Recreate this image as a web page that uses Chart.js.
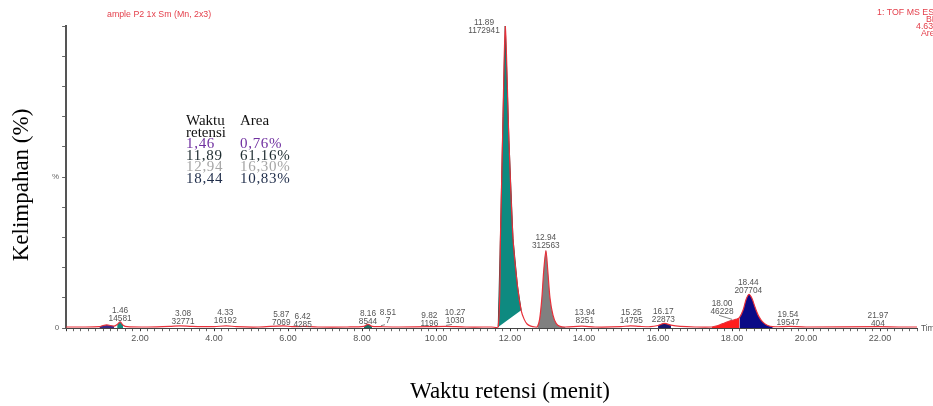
<!DOCTYPE html>
<html>
<head>
<meta charset="utf-8">
<script src="https://cdn.jsdelivr.net/npm/chart.js@4.4.1/dist/chart.umd.min.js"></script>
<style>
  html, body { margin: 0; padding: 0; background: #fff; }
  #wrap { width: 933px; height: 406px; position: relative; }
</style>
</head>
<body>
<div id="wrap"><canvas id="c" width="933" height="406"></canvas></div>
<script>
// Chromatogram trace: retention time (min) and relative abundance (%)
const traceTime = [0.00,0.40,0.90,1.00,1.10,1.20,1.30,1.38,1.46,1.54,1.65,2.20,2.80,3.08,3.40,4.00,4.33,4.60,5.20,5.87,6.10,6.42,6.80,7.60,8.05,8.16,8.27,8.51,9.00,9.82,10.27,10.80,11.50,11.68,11.74,11.81,11.87,11.97,12.08,12.20,12.30,12.38,12.46,12.56,12.68,12.74,12.80,12.86,12.91,12.97,13.02,13.08,13.16,13.25,13.35,13.50,13.94,14.30,15.00,15.25,15.50,15.80,16.00,16.17,16.35,16.60,17.00,17.45,17.60,17.75,17.90,18.00,18.10,18.20,18.30,18.38,18.46,18.54,18.62,18.72,18.82,18.95,19.10,19.54,20.00,21.97,22.50,23.00];
const traceAbund = [0.4,0.4,0.5,0.9,1.1,0.9,0.7,1.2,2.1,1.0,0.5,0.4,0.6,0.8,0.6,0.5,0.8,0.5,0.4,0.8,0.5,0.6,0.4,0.4,0.6,1.3,0.6,0.5,0.4,0.5,0.6,0.4,0.4,0.4,30,70,100,62,29.6,14,5.9,3.0,1.4,0.7,0.4,0.5,3,10,19,25.7,19,10,4.3,1.5,0.6,0.4,0.7,0.4,0.5,0.8,0.6,0.5,0.9,1.6,1.0,0.6,0.4,0.4,0.8,1.5,2.2,2.6,2.9,3.5,6,9.5,11.2,9.8,7,4,2.2,1.0,0.5,0.6,0.4,0.5,0.4,0.4];

// Integrated peak windows (min)
const fillFrom = [0.90, 1.38, 8.05, 11.68, 12.74, 16.00, 17.45, 18.20];
const fillTo   = [1.30, 1.54, 8.27, 12.30, 13.50, 16.35, 18.20, 19.10];

// Peak annotations: retention time, area, apex abundance (%)
const labelRT   = ['1.46','3.08','4.33','5.87','6.42','8.16','8.51','9.82','10.27','11.89','12.94','13.94','15.25','16.17','18.00','18.44','19.54','21.97'];
const labelArea = ['14581','32771','16192','7069','4285','8544','7','1196','1030','1172941','312563','8251','14795','22873','46228','207704','19547','404'];
const labelApex = [2.1,0.8,0.8,0.8,0.6,1.3,0.5,0.5,0.6,100,25.7,0.7,0.8,1.6,2.6,11.2,0.6,0.5];

// Summary table
const tableRT   = ['1,46','11,89','12,94','18,44'];
const tableArea = ['0,76%','61,16%','16,30%','10,83%'];

// ---- styling ----
const fillColors  = ['#3b2a86','#108a7e','#1d6e64','#0e8a80','#808080','#16166e','#ff1e1e','#0a0a86'];
const fillBorders = [null,null,null,'#2a4f4b',null,null,null,null];
const tableColors = ['#7030a0','#1e2c30','#a6a6a6','#1f2d4a'];
// [dx, dy, leader]
const labelNudge = [[0,2,0],[3,1,0],[-1,0,0],[-2,2,0],[-1,3,0],[0,2,0],[7,-1,1],[0,2,0],[9,-1,1],[-22,10,0],[1,0,0],[3,0,0],[1,0,0],[-1,1,0],[-10,-4,1],[0,1,0],[-1,1,0],[-1,2,0]];

const SANS = '"Liberation Sans", Arial, sans-serif';
const SERIF = '"Liberation Serif", "Times New Roman", serif';

const tracePts = traceTime.map((t, i) => ({ x: t, y: traceAbund[i] }));

const datasets = [{
  label: 'trace',
  data: tracePts,
  borderColor: '#e8303a',
  borderWidth: 1.2,
  pointRadius: 0,
  tension: 0.3,
  fill: false,
  order: 0
}];
fillFrom.forEach((a, k) => {
  const pts = tracePts.filter(p => p.x >= a - 1e-9 && p.x <= fillTo[k] + 1e-9);
  const isMain = k === 3;
  datasets.push({
    label: 'peak' + k,
    data: pts,
    borderColor: fillBorders[k] || 'rgba(0,0,0,0)',
    borderWidth: fillBorders[k] ? 1 : 0,
    backgroundColor: fillColors[k],
    pointRadius: 0,
    tension: isMain ? 0 : 0.3,
    fill: isMain ? 'shape' : 'origin',
    order: 1
  });
});

const annotations = {
  id: 'annotations',
  afterDraw(chart) {
    const ctx = chart.ctx;
    const xs = chart.scales.x, ys = chart.scales.y;
    const area = chart.chartArea;
    ctx.save();

    // peak labels
    ctx.font = '8.3px ' + SANS;
    ctx.fillStyle = '#555';
    ctx.textAlign = 'center';
    ctx.textBaseline = 'middle';
    labelRT.forEach((rt, i) => {
      const px = xs.getPixelForValue(parseFloat(rt));
      const py = ys.getPixelForValue(labelApex[i]);
      const [dx, dy, leader] = labelNudge[i];
      const cx = px + dx, cy = py - 5 + dy;
      ctx.fillText(labelArea[i], cx, cy);
      ctx.fillText(rt, cx, cy - 8);
      if (leader) {
        ctx.strokeStyle = '#666';
        ctx.lineWidth = 0.8;
        ctx.beginPath();
        ctx.moveTo(cx - 3, cy + 4);
        ctx.lineTo(px, py - 1);
        ctx.stroke();
      }
    });

    // axis end caption
    ctx.textAlign = 'left';
    ctx.fillText('Time', area.right + 4, ys.getPixelForValue(0) + 1);

    // header texts
    ctx.fillStyle = '#e4404c';
    ctx.font = '8.8px ' + SANS;
    ctx.fillText('ample P2 1x Sm (Mn, 2x3)', 107, 15);
    ctx.fillText('1: TOF MS ES+', 877, 13);
    ctx.fillText('BPI', 926, 20);
    ctx.fillText('4.63e6', 916, 27);
    ctx.fillText('Area', 921, 34);

    // axis titles
    ctx.fillStyle = '#000';
    ctx.font = '23px ' + SERIF;
    ctx.textAlign = 'center';
    ctx.fillText('Waktu retensi (menit)', 510, 392);
    ctx.save();
    ctx.translate(22, 185);
    ctx.rotate(-Math.PI / 2);
    ctx.fillText('Kelimpahan (%)', 0, 0);
    ctx.restore();

    // retention time / area table
    ctx.textAlign = 'left';
    ctx.font = '15px ' + SERIF;
    ctx.fillStyle = '#111';
    ctx.fillText('Waktu', 186, 121);
    ctx.fillText('Area', 240, 121);
    ctx.fillText('retensi', 186, 132.6);
    ctx.letterSpacing = '0.7px';
    tableRT.forEach((rt, i) => {
      const y = 144.2 + i * 11.6;
      ctx.fillStyle = tableColors[i];
      ctx.fillText(rt, 186, y);
      ctx.fillText(tableArea[i], 240, y);
    });
    ctx.restore();
  }
};

new Chart(document.getElementById('c'), {
  type: 'line',
  data: { datasets },
  plugins: [annotations],
  options: {
    responsive: false,
    devicePixelRatio: 1,
    animation: false,
    events: [],
    layout: { padding: { left: 49, top: 26, right: 16, bottom: 60 } },
    plugins: { legend: { display: false }, tooltip: { enabled: false } },
    scales: {
      x: {
        type: 'linear',
        min: 0,
        max: 23,
        border: { display: true, color: '#444', width: 1 },
        grid: {
          drawOnChartArea: false,
          drawTicks: true,
          tickLength: 3,
          tickColor: c => (Math.abs(c.tick.value / 2 - Math.round(c.tick.value / 2)) < 1e-6 ? '#333' : '#666')
        },
        ticks: {
          stepSize: 0.2,
          autoSkip: false,
          maxRotation: 0,
          padding: 2,
          color: '#555',
          font: { family: SANS, size: 9 },
          callback: v => {
            const r = Math.round(v * 10) / 10;
            return (r > 0 && Math.abs(r / 2 - Math.round(r / 2)) < 1e-6) ? r.toFixed(2) : '';
          }
        }
      },
      y: {
        type: 'linear',
        min: 0,
        max: 100,
        border: { display: true, color: '#555', width: 2 },
        grid: { drawOnChartArea: false, tickLength: 4, color: '#666' },
        ticks: {
          stepSize: 10,
          padding: 3,
          color: '#666',
          font: { family: SANS, size: 8 },
          callback: v => (v === 0 ? '0' : (v === 50 ? '%' : ''))
        }
      }
    }
  }
});
</script>
</body>
</html>
